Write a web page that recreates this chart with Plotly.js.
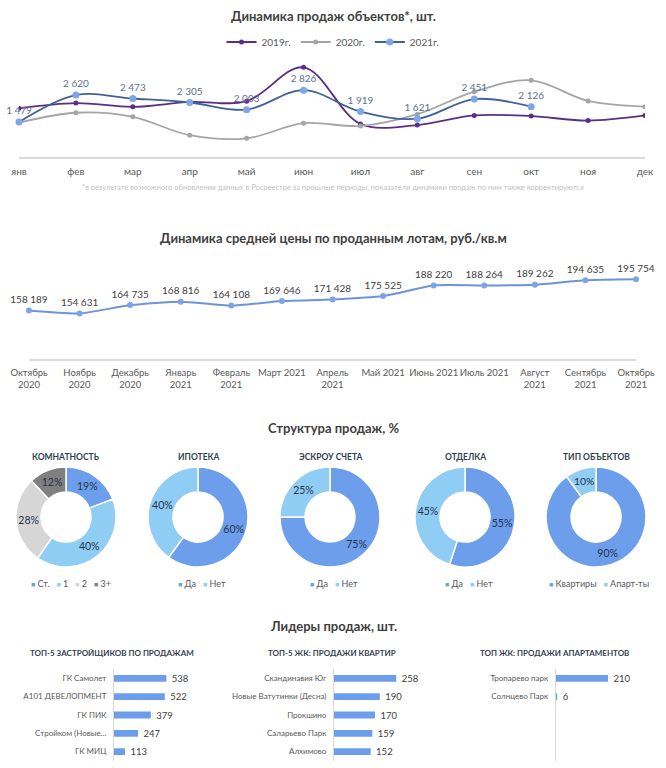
<!DOCTYPE html>
<html>
<head>
<meta charset="utf-8">
<script src="https://cdn.plot.ly/plotly-3.0.1.min.js"></script>
<style>html,body{margin:0;padding:0;background:#fff;}#chart{width:666px;height:768px;}</style>
</head>
<body>
<div id="chart"></div>
<script>
// ---- Data ----
const months = ['янв','фев','мар','апр','май','июн','июл','авг','сен','окт','ноя','дек'];
const sales2019 = [2060, 2280, 2120, 2330, 2360, 3790, 1400, 1350, 1760, 1730, 1540, 1760];
const sales2020 = [1450, 1870, 1700, 920, 790, 1430, 1310, 1810, 2760, 3240, 2370, 2130];
const sales2021 = [1479, 2620, 2473, 2305, 2003, 2826, 1919, 1621, 2451, 2126];

const priceMonths = ['Октябрь<br>2020','Ноябрь<br>2020','Декабрь<br>2020','Январь<br>2021','Февраль<br>2021','Март 2021','Апрель<br>2021','Май 2021','Июнь 2021','Июль 2021','Август<br>2021','Сентябрь<br>2021','Октябрь<br>2021'];
const avgPrice = [158189, 154631, 164735, 168816, 164108, 169646, 171428, 175525, 188220, 188264, 189262, 194635, 195754];

const roomLabels = ['Ст.','1','2','3+'];
const roomShares = [19, 40, 28, 12];
const yesNo = ['Да','Нет'];
const mortgageShares = [60, 40];
const escrowShares = [75, 25];
const finishShares = [55, 45];
const objTypes = ['Квартиры','Апарт-ты'];
const objShares = [90, 10];

const developers = ['ГК Самолет','А101 ДЕВЕЛОПМЕНТ','ГК ПИК','Стройком (Новые...','ГК МИЦ'];
const developerSales = [538, 522, 379, 247, 113];
const complexes = ['Скандинавия Юг','Новые Ватутинки (Десна)','Прокшино','Саларьево Парк','Алхимово'];
const complexSales = [258, 190, 170, 159, 152];
const aptComplexes = ['Тропарево парк','Солнцево Парк'];
const aptSales = [210, 6];

// ---- Styles ----
const BLUE = '#6d9eeb', LIGHT = '#8fcdf5', GRAY = '#d6d6d6', DARK = '#7f7f7f';
const W = 666, H = 768;
const px = v => v / W, py = v => 1 - v / H;

const traces = [];
traces.push({type:'scatter', mode:'lines+markers', name:'2019г.', x:months, y:sales2019,
  xaxis:'x', yaxis:'y', line:{color:'#5c2d86', width:1.8, shape:'spline', smoothing:1},
  marker:{color:'#5c2d86', size:5}, hoverinfo:'skip'});
traces.push({type:'scatter', mode:'lines+markers', name:'2020г.', x:months, y:sales2020,
  xaxis:'x', yaxis:'y', line:{color:'#a5a5a5', width:1.8, shape:'spline', smoothing:1},
  marker:{color:'#a5a5a5', size:5}, hoverinfo:'skip'});
traces.push({type:'scatter', mode:'lines+markers+text', name:'2021г.', x:months.slice(0, sales2021.length), y:sales2021,
  xaxis:'x', yaxis:'y', line:{color:'#41619b', width:1.8, shape:'spline', smoothing:1},
  marker:{color:'#7fa6e8', size:7}, texttemplate:'%{y:,}', textposition:'top center',
  textfont:{size:10, color:'#5b7190'}, cliponaxis:false, hoverinfo:'skip'});

traces.push({type:'scatter', mode:'lines+markers+text', x:priceMonths, y:avgPrice, xaxis:'x2', yaxis:'y2',
  line:{color:'#6f93d9', width:2, shape:'spline', smoothing:0.6}, marker:{color:'#7ea3e6', size:6},
  texttemplate:'%{y:,}', textposition:'top center', textfont:{size:10, color:'#404040'},
  cliponaxis:false, showlegend:false, hoverinfo:'skip'});

function donut(labels, values, colors, cx) {
  return {type:'pie', labels:labels, values:values, hole:0.5, sort:false, direction:'clockwise',
    marker:{colors:colors, line:{color:'#ffffff', width:1.5}},
    texttemplate:'%{value}%', textposition:'inside', insidetextorientation:'horizontal',
    textfont:{size:10.5, color:'#24324a'}, showlegend:false, hoverinfo:'skip',
    domain:{x:[px(cx-50), px(cx+50)], y:[py(567), py(467)]}};
}
const centers = [66, 198, 330, 465, 596];
traces.push(donut(roomLabels, roomShares, [BLUE, LIGHT, GRAY, DARK], centers[0]));
traces.push(donut(yesNo, mortgageShares, [BLUE, LIGHT], centers[1]));
traces.push(donut(yesNo, escrowShares, [BLUE, LIGHT], centers[2]));
traces.push(donut(yesNo, finishShares, [BLUE, LIGHT], centers[3]));
traces.push(donut(objTypes, objShares, [BLUE, LIGHT], centers[4]));

function hbar(names, vals, n) {
  return {type:'bar', orientation:'h', x:vals, y:names, xaxis:'x'+n, yaxis:'y'+n,
    marker:{color:BLUE}, width:0.37, texttemplate:'\u00a0%{x}', textposition:'outside',
    constraintext:'none', textfont:{size:9.5, color:'#404040'}, cliponaxis:false,
    showlegend:false, hoverinfo:'skip'};
}
traces.push(hbar(developers, developerSales, 3));
traces.push(hbar(complexes, complexSales, 4));
traces.push(hbar(aptComplexes, aptSales, 5));

function ann(text, x, y, size, color, bold) {
  return {text: bold ? '<b>'+text+'</b>' : text, x:x, y:y, xref:'paper', yref:'paper',
    xanchor:'center', yanchor:'middle', showarrow:false, font:{size:size, color:color}};
}
const sq = c => '<span style="color:'+c+';font-size:7px">■</span>';
const sp = '\u00a0\u00a0\u00a0';
const annotations = [
  ann('Динамика продаж объектов*, шт.', 0.5, py(16), 13, '#404040', true),
  ann('*в результате возможного обновления данных в Росреестре за прошлые периоды, показатели динамики продаж по ним также корректируются', 0.5, py(188), 7.5, '#bfbfbf', false),
  ann('Динамика средней цены по проданным лотам, руб./кв.м', 0.5, py(238), 13, '#404040', true),
  ann('Структура продаж, %', 0.5, py(428), 13, '#404040', true),
  ann('КОМНАТНОСТЬ', px(centers[0]), py(457), 8.5, '#333f50', true),
  ann('ИПОТЕКА', px(centers[1]), py(457), 8.5, '#333f50', true),
  ann('ЭСКРОУ СЧЕТА', px(centers[2]), py(457), 8.5, '#333f50', true),
  ann('ОТДЕЛКА', px(centers[3]), py(457), 8.5, '#333f50', true),
  ann('ТИП ОБЪЕКТОВ', px(centers[4]), py(457), 8.5, '#333f50', true),
  ann(sq(BLUE)+' Ст.'+sp+sq(LIGHT)+' 1'+sp+sq(GRAY)+' 2'+sp+sq(DARK)+' 3+', px(centers[0]+5), py(583), 9, '#595959', false),
  ann(sq(BLUE)+' Да'+sp+sq(LIGHT)+' Нет', px(centers[1]+4), py(583), 9, '#595959', false),
  ann(sq(BLUE)+' Да'+sp+sq(LIGHT)+' Нет', px(centers[2]+4), py(583), 9, '#595959', false),
  ann(sq(BLUE)+' Да'+sp+sq(LIGHT)+' Нет', px(centers[3]+4), py(583), 9, '#595959', false),
  ann(sq(BLUE)+' Квартиры'+sp+sq(LIGHT)+' Апарт-ты', px(centers[4]+3), py(583), 9, '#595959', false),
  ann('Лидеры продаж, шт.', 0.5, py(626), 13, '#404040', true),
  ann('ТОП-5 ЗАСТРОЙЩИКОВ ПО ПРОДАЖАМ', px(112), py(653), 8, '#333f50', true),
  ann('ТОП-5 ЖК: ПРОДАЖИ КВАРТИР', px(332), py(653), 8, '#333f50', true),
  ann('ТОП ЖК: ПРОДАЖИ АПАРТАМЕНТОВ', px(554), py(653), 8, '#333f50', true)
];

const hidden = {visible:false, fixedrange:true};
const barY = n => ({domain:[py(760.8), py(669.2)], range:[4.5,-0.5], type:'category', anchor:'x'+n,
  showline:true, linecolor:'#d9d9d9', linewidth:1, ticks:'', showgrid:false, zeroline:false,
  tickfont:{size:8, color:'#595959'}, ticklabelstandoff:5, fixedrange:true});

const layout = {
  width:W, height:H, margin:{l:0, r:0, t:0, b:0},
  paper_bgcolor:'#ffffff', plot_bgcolor:'rgba(0,0,0,0)',
  separators:', ',
  font:{family:'Lato, "Open Sans", sans-serif', color:'#595959'},
  showlegend:true,
  legend:{orientation:'h', x:0.5, xanchor:'center', y:py(42), yanchor:'middle',
    font:{size:10, color:'#595959'}, itemwidth:30, bgcolor:'rgba(0,0,0,0)', traceorder:'normal'},
  xaxis:{domain:[px(19), px(645)], range:[0, 11], type:'category', anchor:'y',
    showline:true, linecolor:'#d9d9d9', linewidth:2, ticks:'', showgrid:false, zeroline:false,
    tickfont:{size:10, color:'#595959'}, ticklabelstandoff:4, tickangle:0, fixedrange:true},
  yaxis:Object.assign({domain:[py(157), py(62.4)], range:[0, 4000], anchor:'x'}, hidden),
  xaxis2:{domain:[px(29), px(636)], range:[0, 12], type:'category', anchor:'y2',
    showline:true, linecolor:'#d9d9d9', linewidth:1.5, ticks:'', showgrid:false, zeroline:false,
    tickfont:{size:9.5, color:'#595959'}, ticklabelstandoff:4, tickangle:0, fixedrange:true},
  yaxis2:Object.assign({domain:[py(359), py(275.7)], range:[100000, 200000], anchor:'x2'}, hidden),
  xaxis3:Object.assign({domain:[px(114), px(172.4)], range:[0, 600], anchor:'y3'}, hidden),
  yaxis3:barY(3),
  xaxis4:Object.assign({domain:[px(334), px(406.4)], range:[0, 300], anchor:'y4'}, hidden),
  yaxis4:barY(4),
  xaxis5:Object.assign({domain:[px(555.7), px(630.4)], range:[0, 300], anchor:'y5'}, hidden),
  yaxis5:barY(5),
  annotations:annotations
};

Plotly.newPlot('chart', traces, layout, {displayModeBar:false, staticPlot:true});
</script>
</body>
</html>
